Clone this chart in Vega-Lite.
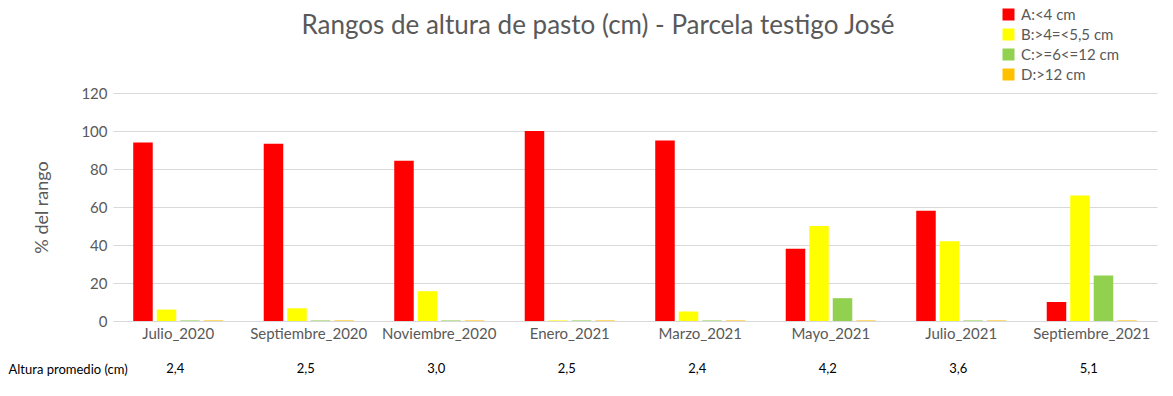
{
  "$schema": "https://vega.github.io/schema/vega-lite/v6.json",
  "width": 1044,
  "height": 228,
  "autosize": "none",
  "padding": {"left": 113, "top": 93, "right": 16, "bottom": 75},
  "background": "white",
  "title": {
    "text": "Rangos de altura de pasto (cm) - Parcela testigo José",
    "font": "Lato",
    "fontSize": 26,
    "fontWeight": "normal",
    "color": "#595959",
    "anchor": "middle",
    "dx": -37,
    "offset": 0,
    "dy": 32
  },
  "config": {
    "font": "Lato",
    "view": {"stroke": null}
  },
  "datasets": {
    "barras": [
      {"mes": "Julio_2020", "rango": "A:<4 cm", "pct": 94},
      {"mes": "Julio_2020", "rango": "B:>4=<5,5 cm", "pct": 6},
      {"mes": "Julio_2020", "rango": "C:>=6<=12 cm", "pct": 0.3},
      {"mes": "Julio_2020", "rango": "D:>12 cm", "pct": 0.3},
      {"mes": "Septiembre_2020", "rango": "A:<4 cm", "pct": 93.3},
      {"mes": "Septiembre_2020", "rango": "B:>4=<5,5 cm", "pct": 6.7},
      {"mes": "Septiembre_2020", "rango": "C:>=6<=12 cm", "pct": 0.3},
      {"mes": "Septiembre_2020", "rango": "D:>12 cm", "pct": 0.3},
      {"mes": "Noviembre_2020", "rango": "A:<4 cm", "pct": 84.3},
      {"mes": "Noviembre_2020", "rango": "B:>4=<5,5 cm", "pct": 15.7},
      {"mes": "Noviembre_2020", "rango": "C:>=6<=12 cm", "pct": 0.3},
      {"mes": "Noviembre_2020", "rango": "D:>12 cm", "pct": 0.3},
      {"mes": "Enero_2021", "rango": "A:<4 cm", "pct": 100},
      {"mes": "Enero_2021", "rango": "B:>4=<5,5 cm", "pct": 0.3},
      {"mes": "Enero_2021", "rango": "C:>=6<=12 cm", "pct": 0.3},
      {"mes": "Enero_2021", "rango": "D:>12 cm", "pct": 0.3},
      {"mes": "Marzo_2021", "rango": "A:<4 cm", "pct": 95},
      {"mes": "Marzo_2021", "rango": "B:>4=<5,5 cm", "pct": 5},
      {"mes": "Marzo_2021", "rango": "C:>=6<=12 cm", "pct": 0.3},
      {"mes": "Marzo_2021", "rango": "D:>12 cm", "pct": 0.3},
      {"mes": "Mayo_2021", "rango": "A:<4 cm", "pct": 38},
      {"mes": "Mayo_2021", "rango": "B:>4=<5,5 cm", "pct": 50},
      {"mes": "Mayo_2021", "rango": "C:>=6<=12 cm", "pct": 12},
      {"mes": "Mayo_2021", "rango": "D:>12 cm", "pct": 0.3},
      {"mes": "Julio_2021", "rango": "A:<4 cm", "pct": 58},
      {"mes": "Julio_2021", "rango": "B:>4=<5,5 cm", "pct": 42},
      {"mes": "Julio_2021", "rango": "C:>=6<=12 cm", "pct": 0.3},
      {"mes": "Julio_2021", "rango": "D:>12 cm", "pct": 0.3},
      {"mes": "Septiembre_2021", "rango": "A:<4 cm", "pct": 10},
      {"mes": "Septiembre_2021", "rango": "B:>4=<5,5 cm", "pct": 66},
      {"mes": "Septiembre_2021", "rango": "C:>=6<=12 cm", "pct": 24},
      {"mes": "Septiembre_2021", "rango": "D:>12 cm", "pct": 0.3}
    ],
    "promedio": [
      {"mes": "Julio_2020", "alt": "2,4"},
      {"mes": "Septiembre_2020", "alt": "2,5"},
      {"mes": "Noviembre_2020", "alt": "3,0"},
      {"mes": "Enero_2021", "alt": "2,5"},
      {"mes": "Marzo_2021", "alt": "2,4"},
      {"mes": "Mayo_2021", "alt": "4,2"},
      {"mes": "Julio_2021", "alt": "3,6"},
      {"mes": "Septiembre_2021", "alt": "5,1"}
    ]
  },
  "layer": [
    {
      "data": {"name": "barras"},
      "mark": {"type": "bar"},
      "encoding": {
        "x": {
          "field": "mes",
          "type": "nominal",
          "sort": ["Julio_2020", "Septiembre_2020", "Noviembre_2020", "Enero_2021", "Marzo_2021", "Mayo_2021", "Julio_2021", "Septiembre_2021"],
          "scale": {"paddingInner": 0.31, "paddingOuter": 0.155},
          "axis": {
            "title": "Altura promedio (cm)",
            "titleX": -105,
            "titleY": 48,
            "titleAlign": "left",
            "titleBaseline": "middle",
            "titleAngle": 0,
            "titleFontSize": 13,
            "titleFontWeight": "normal",
            "titleColor": "#000000",
            "labelAngle": 0,
            "labelFontSize": 15,
            "labelColor": "#595959",
            "labelPadding": 5,
            "ticks": false,
            "domainColor": "#d9d9d9",
            "grid": false
          }
        },
        "xOffset": {
          "field": "rango",
          "type": "nominal",
          "scale": {"paddingInner": 0.17, "paddingOuter": 0}
        },
        "y": {
          "field": "pct",
          "type": "quantitative",
          "scale": {"domain": [0, 120]},
          "axis": {
            "title": "% del rango",
            "titleFontSize": 18,
            "titleFontWeight": "normal",
            "titleColor": "#595959",
            "titlePadding": 29,
            "values": [0, 20, 40, 60, 80, 100, 120],
            "labelFontSize": 15,
            "labelColor": "#595959",
            "labelPadding": 6,
            "ticks": false,
            "domain": false,
            "gridColor": "#d9d9d9"
          }
        },
        "color": {
          "field": "rango",
          "type": "nominal",
          "scale": {
            "domain": ["A:<4 cm", "B:>4=<5,5 cm", "C:>=6<=12 cm", "D:>12 cm"],
            "range": ["#FF0000", "#FFFF00", "#92D050", "#FFC000"]
          },
          "legend": {
            "title": null,
            "orient": "none",
            "legendX": 888,
            "legendY": -86,
            "symbolType": "square",
            "symbolSize": 144,
            "symbolStrokeWidth": 0,
            "labelFontSize": 15,
            "labelColor": "#595959",
            "labelOffset": 5,
            "rowPadding": 4
          }
        }
      }
    },
    {
      "data": {"name": "promedio"},
      "mark": {"type": "text", "fontSize": 13, "color": "#000000", "baseline": "middle", "dx": -3},
      "encoding": {
        "x": {"field": "mes", "type": "nominal", "sort": ["Julio_2020", "Septiembre_2020", "Noviembre_2020", "Enero_2021", "Marzo_2021", "Mayo_2021", "Julio_2021", "Septiembre_2021"]},
        "y": {"value": 276},
        "text": {"field": "alt"}
      }
    }
  ]
}
